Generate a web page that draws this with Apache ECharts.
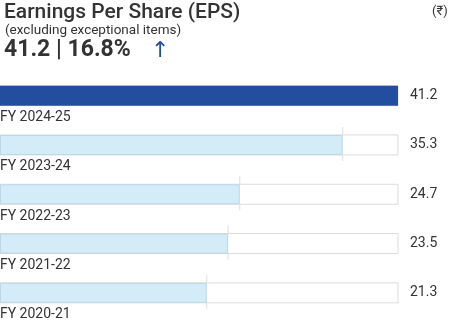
<!DOCTYPE html>
<html>
<head>
<meta charset="utf-8">
<script src="https://cdn.jsdelivr.net/npm/echarts@6/dist/echarts.min.js"></script>
<style>
  html, body { margin: 0; padding: 0; background: #fff; }
  #chart { width: 463px; height: 336px; }
</style>
</head>
<body>
<div id="chart"></div>
<script>
// Earnings per share by financial year, latest first
const years = ['FY 2024-25', 'FY 2023-24', 'FY 2022-23', 'FY 2021-22', 'FY 2020-21'];
const eps = [41.2, 35.3, 24.7, 23.5, 21.3];
const headline = '41.2 | 16.8%';

const FONT = 'Roboto, "Noto Sans", "DejaVu Sans", sans-serif';
const DARK = '#234e9f';
const LIGHT = '#d3ecf8';
const LIGHT_EDGE = '#bcd7e6';

const chart = echarts.init(document.getElementById('chart'), null, { renderer: 'canvas' });

chart.setOption({
  animation: false,
  backgroundColor: '#fff',
  textStyle: { fontFamily: FONT },
  title: [
    {
      text: 'Earnings Per Share (EPS)',
      left: -1, top: -3,
      textStyle: { fontFamily: FONT, fontSize: 21, fontWeight: 500, color: '#333' }
    },
    {
      text: '(excluding exceptional items)',
      left: 0, top: 19,
      textStyle: { fontFamily: FONT, fontSize: 13.5, fontWeight: 'normal', color: '#333' }
    },
    {
      text: headline,
      left: -1, top: 34,
      textStyle: { fontFamily: FONT, fontSize: 23, fontWeight: 'bold', color: '#333' }
    },
    {
      text: '↑',
      left: 146, top: 35,
      textStyle: { fontFamily: FONT, fontSize: 22, fontWeight: 'normal', color: DARK }
    },
    {
      text: '(₹)',
      left: 427, top: 0,
      textStyle: { fontFamily: FONT, fontSize: 13, fontWeight: 'normal', color: '#333' }
    }
  ],
  grid: { left: 0, width: 398, top: 71, bottom: 18.5, containLabel: false },
  xAxis: {
    type: 'value', min: 0, max: 41,
    show: false
  },
  yAxis: [
    {
      type: 'category', data: years, inverse: true,
      axisLine: { show: false }, axisTick: { show: false }, axisLabel: { show: false }
    },
    {
      type: 'category', data: eps.map(v => v.toFixed(1)), inverse: true, position: 'right',
      axisLine: { show: false }, axisTick: { show: false },
      axisLabel: { margin: 12, fontFamily: FONT, fontSize: 14, color: '#333' }
    }
  ],
  series: [
    {
      type: 'bar',
      barWidth: 20,
      showBackground: true,
      backgroundStyle: { color: '#fff', borderColor: '#dcdcdc', borderWidth: 1 },
      data: eps.map((v, i) => ({
        value: v,
        itemStyle: i === 0
          ? { color: DARK, borderColor: DARK, borderWidth: 0 }
          : { color: LIGHT, borderColor: LIGHT_EDGE, borderWidth: 1 }
      })),
      label: {
        show: true,
        position: [0, 25],
        align: 'left',
        verticalAlign: 'top',
        fontFamily: FONT, fontSize: 14, color: '#333',
        formatter: p => years[p.dataIndex]
      },
      z: 2
    },
    {
      // thin marker line at the end of each earlier year's bar
      type: 'scatter',
      symbol: 'rect',
      symbolSize: [1, 34],
      symbolOffset: [0, -1],
      itemStyle: { color: '#d6d6d6' },
      data: eps.map((v, i) => i === 0 ? '-' : v),
      z: 1,
      silent: true
    }
  ]
});
</script>
</body>
</html>
